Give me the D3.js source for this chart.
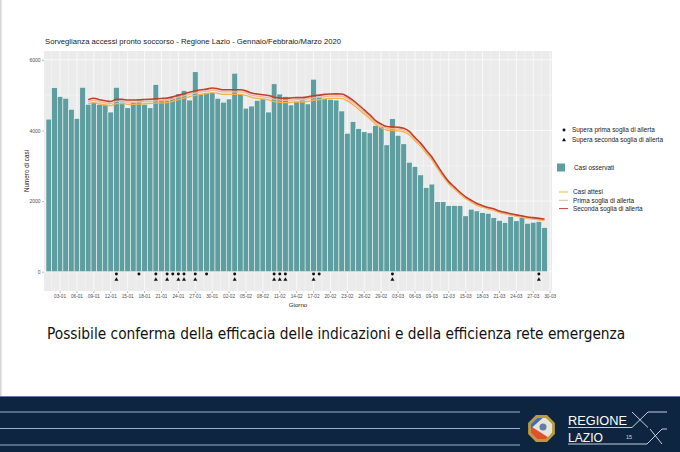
<!DOCTYPE html>
<html><head><meta charset="utf-8">
<script src="https://cdn.jsdelivr.net/npm/d3@7"></script>
<style>html,body{margin:0;padding:0;background:#fff;}svg{display:block;}</style>
</head><body>
<svg id="c" width="680" height="452"></svg>
<script>
// ---------- DATA ----------
const chartTitle = "Sorveglianza accessi pronto soccorso - Regione Lazio - Gennaio/Febbraio/Marzo 2020";
const subtitle = "Possibile conferma della efficacia delle indicazioni e della efficienza rete emergenza";
const firstDay = "2020-01-01";
const axisLastDay = "2020-03-30";
const tickLabels = ["03-01","06-01","09-01","12-01","15-01","18-01","21-01","24-01","27-01","30-01","02-02","05-02","08-02","11-02","14-02","17-02","20-02","23-02","26-02","29-02","03-03","06-03","09-03","12-03","15-03","18-03","21-03","24-03","27-03","30-03"];
const yTicks = [0, 2000, 4000, 6000];
// observed cases, 01-01 .. 29-03
const casiOsservati = [4320,5210,4960,4910,4600,4340,5220,4740,4800,4740,4740,4520,5220,4800,4640,4800,4820,4740,4640,5300,
  4860,4860,4930,5030,5130,4860,5660,5040,5070,5070,4910,4800,4890,5620,5040,4630,4690,4850,4910,4520,
  5320,5030,4960,4720,4820,4860,4750,5450,4960,4900,4880,4860,4550,3920,4250,4050,3960,3930,4140,4110,
  3590,4330,3860,3620,3100,2980,2740,2380,2480,1980,1980,1870,1870,1870,1580,1770,1720,1670,1650,1530,
  1450,1390,1560,1440,1530,1370,1400,1420,1250];
// smoothed lines, 08-01 .. 29-03
const lineStartDay = "08-01";
const casiAttesi = [4750,4790,4750,4720,4700,4760,4760,4740,4740,4745,4755,4765,4775,4780,4790,4825,4875,4915,4955,4990,
  5020,5040,5070,5050,5020,5020,5020,5020,4990,4935,4905,4885,4865,4815,4795,4785,4795,4805,4805,4825,
  4855,4875,4895,4905,4910,4905,4835,4730,4600,4465,4330,4175,4075,4005,4000,3990,3960,3870,3705,3550,
  3355,3170,2925,2690,2485,2340,2195,2065,1970,1880,1825,1775,1735,1675,1640,1600,1570,1540,1510,1490,
  1470,1455];
const primaSoglia = [4810,4850,4810,4780,4760,4820,4820,4800,4800,4805,4815,4825,4835,4845,4855,4890,4940,4980,5020,5060,
  5090,5110,5140,5120,5090,5090,5090,5090,5060,5000,4970,4950,4930,4880,4860,4850,4860,4870,4870,4890,
  4920,4940,4960,4970,4975,4970,4900,4790,4665,4525,4385,4230,4130,4060,4050,4040,4010,3920,3755,3595,
  3400,3210,2965,2725,2520,2370,2225,2095,1995,1905,1850,1800,1760,1700,1660,1620,1590,1560,1530,1510,
  1490,1470];
const secondaSoglia = [4870,4910,4870,4840,4820,4880,4880,4860,4860,4865,4875,4885,4895,4905,4915,4950,5000,5040,5080,5120,
  5150,5170,5200,5180,5150,5150,5150,5150,5120,5060,5030,5010,4990,4940,4920,4910,4920,4930,4930,4950,
  4980,5000,5020,5030,5035,5030,4960,4850,4720,4580,4440,4280,4180,4110,4100,4090,4060,3970,3800,3640,
  3440,3250,3000,2760,2550,2400,2250,2120,2020,1930,1870,1820,1780,1720,1680,1640,1610,1580,1550,1530,
  1510,1490];
const superaPrima = ["13-01","17-01","20-01","22-01","23-01","24-01","25-01","27-01","29-01","03-02","10-02","11-02","12-02","17-02","18-02","02-03","28-03"];
const superaSeconda = ["13-01","20-01","22-01","24-01","25-01","27-01","03-02","10-02","11-02","12-02","17-02","02-03","28-03"];
const legendSymbols = ["Supera prima soglia di allerta","Supera seconda soglia di allerta"];
const legendBars = ["Casi osservati"];
const legendLines = ["Casi attesi","Prima soglia di allerta","Seconda soglia di allerta"];

// ---------- STYLE ----------
const colBar = "#5F9EA0", colAtteso = "#F3B447", colPrima = "#F2B59C", colSeconda = "#C0412A";
const FONT = "'Liberation Sans', Arial, sans-serif";
const NARROW = "'Liberation Sans Narrow', 'DejaVu Sans Condensed', 'Open Sans', sans-serif";
const panel = {x0: 44, x1: 552, y0: 51, y1: 291};

const svg = d3.select("#c");
const fmt = d3.timeFormat("%d-%m");
const parse = d3.timeParse("%Y-%m-%d");
const days = d3.timeDay.range(parse(firstDay), d3.timeDay.offset(parse(axisLastDay), 1)).map(fmt);

function fit(sel, width, maxSize) {
  sel.attr("font-size", maxSize);
  const w = sel.node().getComputedTextLength();
  if (w > width) sel.attr("font-size", maxSize * width / w);
  return sel;
}

const x = d3.scaleBand().domain(days).range([46, 46 + days.length * 5.633]).paddingInner(0).paddingOuter(0);
const y = d3.scaleLinear().domain([0, 6000]).range([271.7, 59.8]);
const cx = d => x(d) + x.bandwidth() / 2;

// panel
svg.append("rect").attr("x", panel.x0).attr("y", panel.y0).attr("width", panel.x1 - panel.x0).attr("height", panel.y1 - panel.y0).attr("fill", "#EBEBEB");
const gMinor = svg.append("g").attr("stroke", "#fff").attr("stroke-width", 0.35);
[1000, 3000, 5000].forEach(v => gMinor.append("line").attr("x1", panel.x0).attr("x2", panel.x1).attr("y1", y(v)).attr("y2", y(v)));
tickLabels.forEach(t => {
  const xm = cx(t) - 1.5 * x.step();
  if (xm > panel.x0) gMinor.append("line").attr("x1", xm).attr("x2", xm).attr("y1", panel.y0).attr("y2", panel.y1);
});
const gMajor = svg.append("g").attr("stroke", "#fff").attr("stroke-width", 0.7);
yTicks.forEach(v => gMajor.append("line").attr("x1", panel.x0).attr("x2", panel.x1).attr("y1", y(v)).attr("y2", y(v)));
tickLabels.forEach(t => gMajor.append("line").attr("x1", cx(t)).attr("x2", cx(t)).attr("y1", panel.y0).attr("y2", panel.y1));

// bars
svg.append("g").selectAll("rect").data(casiOsservati).join("rect")
  .attr("x", (d, i) => x(days[i])).attr("width", x.bandwidth())
  .attr("y", d => y(d)).attr("height", d => y(0) - y(d))
  .attr("fill", colBar).attr("stroke", "#fff").attr("stroke-width", 0.5);

// lines
const startIdx = days.indexOf(lineStartDay);
const line = d3.line().x((d, i) => cx(days[startIdx + i])).y(d => y(d)).curve(d3.curveMonotoneX);
[[casiAttesi, colAtteso, 1.3], [primaSoglia, colPrima, 1.3], [secondaSoglia, colSeconda, 1.6]].forEach(([arr, c, w]) => {
  svg.append("path").datum(arr).attr("d", line).attr("fill", "none").attr("stroke", c).attr("stroke-width", w);
});

// markers
const symCircle = d3.symbol().type(d3.symbolCircle).size(7);
const symTri = d3.symbol().type(d3.symbolTriangle).size(7);
svg.append("g").selectAll("path").data(superaPrima).join("path")
  .attr("d", symCircle).attr("transform", d => `translate(${cx(d)},${y(-65)})`).attr("fill", "#111");
svg.append("g").selectAll("path").data(superaSeconda).join("path")
  .attr("d", symTri).attr("transform", d => `translate(${cx(d)},${y(-225)})`).attr("fill", "#111");

// axes
const axisCol = "#4D4D4D";
const gy = svg.append("g").attr("transform", `translate(${panel.x0},0)`)
  .call(d3.axisLeft(y).tickValues(yTicks).tickSize(2).tickPadding(1.5).tickFormat(d3.format("d")));
gy.select(".domain").remove();
gy.selectAll("line").attr("stroke", "#555").attr("stroke-width", 0.4);
gy.selectAll("text").attr("font-family", FONT).attr("font-size", 5).attr("fill", axisCol);

const gx = svg.append("g").attr("transform", `translate(0,${panel.y1})`)
  .call(d3.axisBottom(x).tickValues(tickLabels).tickSize(2).tickPadding(2));
gx.select(".domain").remove();
gx.selectAll("line").attr("stroke", "#555").attr("stroke-width", 0.4);
gx.selectAll("text").attr("font-family", FONT).attr("font-size", 4.7).attr("fill", axisCol);

svg.append("text").attr("x", (panel.x0 + panel.x1) / 2).attr("y", 306.5).attr("text-anchor", "middle")
  .attr("font-family", FONT).attr("font-size", 6.2).attr("fill", "#222").text("Giorno");
svg.append("text").attr("transform", `translate(29,${(panel.y0 + panel.y1) / 2}) rotate(-90)`).attr("text-anchor", "middle")
  .attr("font-family", FONT).attr("font-size", 6.3).attr("fill", "#222").text("Numero di casi");

// title
fit(svg.append("text").attr("x", 45).attr("y", 43.8).attr("font-family", FONT).attr("fill", "#222").text(chartTitle), 297, 8);

// legend
const lg = svg.append("g").attr("font-family", FONT).attr("font-size", 6.4).attr("fill", "#222");
lg.append("path").attr("d", symCircle).attr("transform", "translate(564,130)").attr("fill", "#111");
lg.append("path").attr("d", symTri).attr("transform", "translate(564,140)").attr("fill", "#111");
legendSymbols.forEach((t, i) => lg.append("text").attr("x", 572).attr("y", 132.2 + i * 10).text(t));
lg.append("rect").attr("x", 557).attr("y", 163.5).attr("width", 8).attr("height", 8).attr("fill", colBar);
lg.append("text").attr("x", 574).attr("y", 170).text(legendBars[0]);
[colAtteso, colPrima, colSeconda].forEach((c, i) => {
  const yy = 192 + i * 8.3;
  lg.append("line").attr("x1", 559).attr("x2", 568).attr("y1", yy).attr("y2", yy).attr("stroke", c).attr("stroke-width", 1);
  lg.append("text").attr("x", 573).attr("y", yy + 2.2).text(legendLines[i]);
});

// subtitle
fit(svg.append("text").attr("x", 47).attr("y", 339).attr("font-family", NARROW).attr("fill", "#111").text(subtitle), 579, 17);

// slide left edge
svg.append("rect").attr("x", 0).attr("y", 0).attr("width", 1.5).attr("height", 396).attr("fill", "#d4d4d4");

// footer banner
const ft = svg.append("g");
ft.append("rect").attr("x", 0).attr("y", 396).attr("width", 680).attr("height", 56).attr("fill", "#0D2540");
ft.append("line").attr("x1", 0).attr("x2", 680).attr("y1", 396.5).attr("y2", 396.5).attr("stroke", "#5F7FA0").attr("stroke-width", 1);
[412, 428.5, 445].forEach(yy => ft.append("line").attr("x1", 0).attr("x2", 520).attr("y1", yy).attr("y2", yy)
  .attr("stroke", "#A9C3DA").attr("stroke-width", 0.9));
const octPts = r => d3.range(8).map(k => { const a = Math.PI / 8 + k * Math.PI / 4; return [541.5 + r * Math.cos(a), 428.5 + r * Math.sin(a)]; }).map(p => p.join(",")).join(" ");
ft.append("polygon").attr("points", octPts(14.5)).attr("fill", "#B89B3A");
ft.append("clipPath").attr("id", "oc").append("polygon").attr("points", octPts(11.5));
const em = ft.append("g").attr("clip-path", "url(#oc)");
em.append("rect").attr("x", 529).attr("y", 416).attr("width", 25).attr("height", 25).attr("fill", "#E8E4DA");
em.append("polygon").attr("points", "529,441 554,441 529,425").attr("fill", "#E0502A");
em.append("polygon").attr("points", "529,416 545,416 529,430").attr("fill", "#3E6FB0");
em.append("polygon").attr("points", "546,441 554,441 554,430").attr("fill", "#C83A2A");
em.append("circle").attr("cx", 543).attr("cy", 427).attr("r", 3.5).attr("fill", "#5E7FA8");
fit(ft.append("text").attr("x", 568).attr("y", 425).attr("font-family", FONT).attr("fill", "#fff").text("REGIONE"), 59, 14);
fit(ft.append("text").attr("x", 568).attr("y", 442).attr("font-family", FONT).attr("fill", "#fff").text("LAZIO"), 35, 14);
ft.append("text").attr("x", 626).attr("y", 438.5).attr("font-family", FONT).attr("font-size", 5.5).attr("fill", "#cfd9e4").text("15");
const xs = ft.append("g").attr("fill", "none").attr("stroke", "#D8E4EE").attr("stroke-width", 0.9);
xs.append("path").attr("d", "M568,427.5 H632 L648,412 H667");
xs.append("path").attr("d", "M632,412 L648,427.5");
xs.append("path").attr("d", "M568,444 H647 L662,429 H667");
xs.append("path").attr("d", "M650,429 L662,444");
</script>
</body></html>
